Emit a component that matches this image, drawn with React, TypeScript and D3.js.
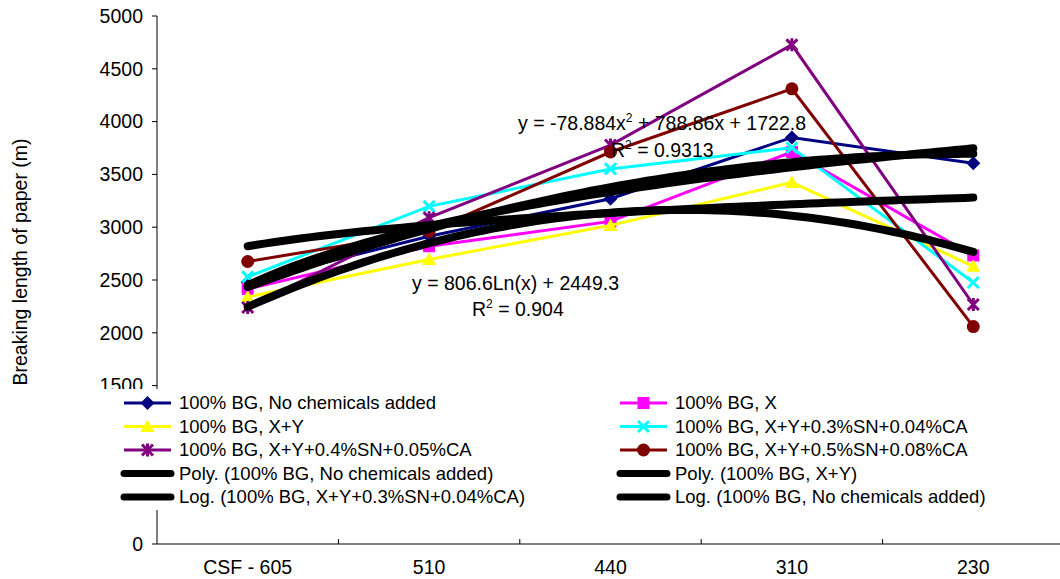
import { scaleLinear, scalePoint, line, range, curveLinear } from "d3"

const categories = ["CSF - 605", "510", "440", "310", "230"]
const yTicks = [0, 500, 1000, 1500, 2000, 2500, 3000, 3500, 4000, 4500, 5000]

const noChem = [2480, 2915, 3270, 3850, 3605]
const withX = [2415, 2820, 3055, 3712, 2732]
const withXY = [2340, 2695, 3017, 3425, 2630]
const sn03 = [2530, 3197, 3552, 3752, 2476]
const sn04 = [2239, 3090, 3778, 4727, 2268]
const sn05 = [2675, 2960, 3712, 4310, 2059]

// trendline coefficients (x = 1..5)
const polyNoChem = [-78.884, 788.86, 1722.8]
const polyXY = [-157.9, 1077.5, 1325.8]
const logSn03 = [806.6, 2449.3]
const logNoChem = [286, 2820]

const series = [
  { name: "100% BG, No chemicals added", values: noChem, color: "#000080", marker: "diamond" },
  { name: "100% BG, X", values: withX, color: "#FF00FF", marker: "square" },
  { name: "100% BG, X+Y", values: withXY, color: "#FFFF00", marker: "triangle" },
  { name: "100% BG, X+Y+0.3%SN+0.04%CA", values: sn03, color: "#00FFFF", marker: "x" },
  { name: "100% BG, X+Y+0.4%SN+0.05%CA", values: sn04, color: "#800080", marker: "star" },
  { name: "100% BG, X+Y+0.5%SN+0.08%CA", values: sn05, color: "#800000", marker: "circle" },
]

const trends = [
  { name: "Poly. (100% BG, No chemicals added)", f: (x: number) => polyNoChem[0] * x * x + polyNoChem[1] * x + polyNoChem[2] },
  { name: "Poly. (100% BG, X+Y)", f: (x: number) => polyXY[0] * x * x + polyXY[1] * x + polyXY[2] },
  { name: "Log. (100% BG, X+Y+0.3%SN+0.04%CA)", f: (x: number) => logSn03[0] * Math.log(x) + logSn03[1] },
  { name: "Log. (100% BG, No chemicals added)", f: (x: number) => logNoChem[0] * Math.log(x) + logNoChem[1] },
]

const FONT = "'Liberation Sans', Arial, sans-serif"

function Marker({ type, x, y, color }: { type: string; x: number; y: number; color: string }) {
  if (type === "diamond") {
    const s = 7
    return <path d={`M${x},${y - s}L${x + s},${y}L${x},${y + s}L${x - s},${y}Z`} fill={color} />
  }
  if (type === "square") {
    const s = 6
    return <rect x={x - s} y={y - s} width={2 * s} height={2 * s} fill={color} />
  }
  if (type === "triangle") {
    const s = 7
    return <path d={`M${x},${y - s}L${x + s},${y + s * 0.8}L${x - s},${y + s * 0.8}Z`} fill={color} />
  }
  if (type === "x") {
    const s = 5.5
    return <path d={`M${x - s},${y - s}L${x + s},${y + s}M${x - s},${y + s}L${x + s},${y - s}`} stroke={color} strokeWidth={3} />
  }
  if (type === "star") {
    const s = 5.5
    return <path d={`M${x - s},${y - s}L${x + s},${y + s}M${x - s},${y + s}L${x + s},${y - s}M${x},${y - s - 1}L${x},${y + s + 1}`} stroke={color} strokeWidth={3} />
  }
  return <circle cx={x} cy={y} r={6.5} fill={color} />
}

export default function App() {
  const width = 1060
  const height = 579
  const axisX = 157
  const xScale = scalePoint<string>().domain(categories).range([axisX, 1064]).padding(0.5)
  const xNum = scaleLinear().domain([1, 5]).range([xScale(categories[0])!, xScale(categories[4])!])
  const yScale = scaleLinear().domain([0, 5000]).range([544, 16])
  const step = xScale.step()

  const seriesLine = line<number>()
    .x((_, i) => xScale(categories[i])!)
    .y((d) => yScale(d))
    .curve(curveLinear)
  const trendLine = line<number>()
    .x((d) => xNum(d))
    .y((d) => yScale(0))
  const xs = range(1, 5.001, 0.05)

  const legendRows = [
    [series[0], series[1]],
    [series[2], series[3]],
    [series[4], series[5]],
    [trends[0], trends[1]],
    [trends[2], trends[3]],
  ]
  const legendCols = [124, 620]

  return (
    <svg width={width} height={height} style={{ position: "absolute", left: 0, top: 0, background: "#fff" }} fontFamily={FONT}>
      <rect width={width} height={height} fill="#fff" />
      {/* y axis */}
      <line x1={axisX} x2={axisX} y1={yScale(5000)} y2={yScale(0)} stroke="#000" strokeWidth={1} />
      {yTicks.map((t) => (
        <g key={t}>
          <line x1={axisX - 5} x2={axisX} y1={yScale(t)} y2={yScale(t)} stroke="#000" />
          <text x={143} y={yScale(t)} dy="0.35em" textAnchor="end" fontSize={19.5} fill="#000">{t}</text>
        </g>
      ))}
      {/* x axis */}
      <line x1={axisX} x2={width} y1={yScale(0)} y2={yScale(0)} stroke="#000" />
      {categories.map((c, i) => (
        <g key={c}>
          {i > 0 && <line x1={xScale(c)! - step / 2} x2={xScale(c)! - step / 2} y1={yScale(0) - 5} y2={yScale(0)} stroke="#000" />}
          <text x={xScale(c)} y={574} textAnchor="middle" fontSize={19.5} fill="#000">{c}</text>
        </g>
      ))}
      <text transform="translate(27,262) rotate(-90)" textAnchor="middle" fontSize={19.5} fill="#000">Breaking length of paper (m)</text>

      {/* series */}
      {series.map((s) => (
        <g key={s.name}>
          <path d={seriesLine(s.values)!} fill="none" stroke={s.color} strokeWidth={3} />
          {s.values.map((v, i) => (
            <Marker key={i} type={s.marker} x={xScale(categories[i])!} y={yScale(v)} color={s.color} />
          ))}
        </g>
      ))}

      {/* trendlines */}
      {trends.map((t) => (
        <path
          key={t.name}
          d={trendLine.y((x) => yScale(t.f(x)))(xs)!}
          fill="none"
          stroke="#000"
          strokeWidth={8}
          strokeLinecap="round"
          strokeLinejoin="round"
        />
      ))}

      {/* equations */}
      <text x={662} y={130} textAnchor="middle" fontSize={19.5} fill="#000">
        y = -78.884x<tspan fontSize={12} dy={-8}>2</tspan><tspan dy={8}> + 788.86x + 1722.8</tspan>
      </text>
      <text x={611} y={157} fontSize={19.5} fill="#000">
        R<tspan fontSize={12} dy={-8}>2</tspan><tspan dy={8}> = 0.9313</tspan>
      </text>
      <text x={412} y={290} fontSize={19.5} fill="#000">y = 806.6Ln(x) + 2449.3</text>
      <text x={472} y={316} fontSize={19.5} fill="#000">
        R<tspan fontSize={12} dy={-8}>2</tspan><tspan dy={8}> = 0.904</tspan>
      </text>

      {/* legend */}
      <rect x={60} y={389} width={width - 60} height={121} fill="#fff" />
      {legendRows.map((row, r) =>
        row.map((item: any, c) => {
          const ly = 403 + r * 23.5
          const lx = legendCols[c]
          const isTrend = !item.values
          return (
            <g key={item.name}>
              {isTrend ? (
                <line x1={lx} x2={lx + 47} y1={ly} y2={ly} stroke="#000" strokeWidth={7} strokeLinecap="round" />
              ) : (
                <>
                  <line x1={lx} x2={lx + 47} y1={ly} y2={ly} stroke={item.color} strokeWidth={3} />
                  <Marker type={item.marker} x={lx + 23.5} y={ly} color={item.color} />
                </>
              )}
              <text x={lx + 55} y={ly} dy="0.35em" fontSize={18.5} fill="#000">{item.name}</text>
            </g>
          )
        })
      )}
    </svg>
  )
}
